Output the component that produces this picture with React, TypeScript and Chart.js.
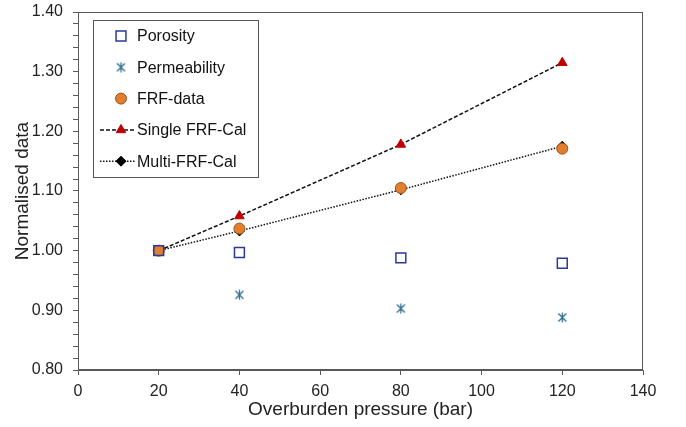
import React, { useEffect, useRef } from 'react';
import { Chart, registerables } from 'chart.js';
import { drawPoint } from 'chart.js/helpers';

Chart.register(...registerables);

// ---- data ----
const pressures = [20, 40, 80, 120];
const porosity = [1.0, 0.997, 0.988, 0.979];
const permeability = [1.0, 0.926, 0.903, 0.888];
const frfData = [1.0, 1.037, 1.105, 1.171];
const singleFrfCal = [1.0, 1.058, 1.178, 1.315];
const multiFrfCal = [1.0, 1.033, 1.102, 1.175];
const seriesLabels = ['Porosity', 'Permeability', 'FRF-data', 'Single FRF-Cal', 'Multi-FRF-Cal'];
const xTitle = 'Overburden pressure (bar)';
const yTitle = 'Normalised data';

const FONT = '"Liberation Sans", Arial, sans-serif';

function makeAsterisk(color: string) {
  const c = document.createElement('canvas');
  c.width = 11;
  c.height = 11;
  const ctx = c.getContext('2d')!;
  ctx.strokeStyle = color;
  ctx.lineWidth = 1.3;
  ctx.beginPath();
  ctx.moveTo(1.5, 1.5);
  ctx.lineTo(9.5, 9.5);
  ctx.moveTo(9.5, 1.5);
  ctx.lineTo(1.5, 9.5);
  ctx.moveTo(5.5, 0.5);
  ctx.lineTo(5.5, 10.5);
  ctx.stroke();
  return c;
}

const toPts = (ys: number[]) => pressures.map((x, i) => ({ x, y: ys[i] }));

const framePlugin = {
  id: 'frame',
  afterDraw(chart: any) {
    const { ctx, chartArea } = chart;
    ctx.save();
    ctx.strokeStyle = '#595959';
    ctx.lineWidth = 1;
    ctx.strokeRect(chartArea.left + 0.5, chartArea.top + 0.5, chartArea.right - chartArea.left - 1, chartArea.bottom - chartArea.top - 1);
    ctx.restore();
  },
};

const legendPlugin = {
  id: 'boxLegend',
  afterDraw(chart: any) {
    const ctx = chart.ctx;
    ctx.save();
    const x0 = 93.5, y0 = 20.5, w = 165, h = 157;
    ctx.fillStyle = '#ffffff';
    ctx.fillRect(x0, y0, w, h);
    ctx.strokeStyle = '#555555';
    ctx.lineWidth = 1;
    ctx.strokeRect(x0, y0, w, h);
    chart.data.datasets.forEach((ds: any, i: number) => {
      const cy = 36 + i * 31.3;
      if (ds.showLine) {
        ctx.beginPath();
        ctx.setLineDash(ds.borderDash || []);
        ctx.strokeStyle = ds.borderColor;
        ctx.lineWidth = ds.borderWidth;
        ctx.moveTo(100, cy);
        ctx.lineTo(136, cy);
        ctx.stroke();
        ctx.setLineDash([]);
      }
      ctx.fillStyle = ds.pointBackgroundColor;
      ctx.strokeStyle = ds.pointBorderColor;
      ctx.lineWidth = ds.pointBorderWidth;
      drawPoint(ctx, { pointStyle: ds.pointStyle, rotation: 0, radius: ds.pointRadius, borderWidth: ds.pointBorderWidth } as any, 121, cy);
      ctx.fillStyle = '#111111';
      ctx.font = '16px ' + FONT;
      ctx.textBaseline = 'middle';
      ctx.textAlign = 'left';
      ctx.fillText(ds.label, 137, cy + 1);
    });
    ctx.restore();
  },
};

export default function App() {
  const ref = useRef<HTMLCanvasElement>(null);
  useEffect(() => {
    const asterisk = makeAsterisk('#2e7090');
    const chart = new Chart(ref.current!, {
      type: 'scatter',
      data: {
        datasets: [
          {
            label: seriesLabels[0],
            data: toPts(porosity),
            order: 0,
            pointStyle: 'rect',
            pointRadius: 7,
            pointBackgroundColor: 'rgba(0,0,0,0)',
            pointBorderColor: '#2a3a9c',
            pointBorderWidth: 1.5,
            showLine: false,
          },
          {
            label: seriesLabels[1],
            data: toPts(permeability),
            order: 2,
            pointStyle: asterisk as any,
            pointRadius: 5,
            pointBackgroundColor: '#2e7090',
            pointBorderColor: '#2e7090',
            pointBorderWidth: 1,
            showLine: false,
          },
          {
            label: seriesLabels[2],
            data: toPts(frfData),
            order: 1,
            pointStyle: 'circle',
            pointRadius: 5.5,
            pointBackgroundColor: '#e07f2e',
            pointBorderColor: '#9c5418',
            pointBorderWidth: 1,
            showLine: false,
          },
          {
            label: seriesLabels[3],
            data: toPts(singleFrfCal),
            order: 3,
            pointStyle: 'triangle',
            pointRadius: 5.5,
            pointBackgroundColor: '#c00000',
            pointBorderColor: '#c00000',
            pointBorderWidth: 1,
            showLine: true,
            borderColor: '#111111',
            borderWidth: 1.5,
            borderDash: [4, 2],
          },
          {
            label: seriesLabels[4],
            data: toPts(multiFrfCal),
            order: 4,
            pointStyle: 'rectRot',
            pointRadius: 5,
            pointBackgroundColor: '#000000',
            pointBorderColor: '#000000',
            pointBorderWidth: 1,
            showLine: true,
            borderColor: '#111111',
            borderWidth: 1.5,
            borderDash: [1.5, 1.5],
          },
        ] as any,
      },
      options: {
        animation: false,
        responsive: true,
        maintainAspectRatio: false,
        layout: { padding: { top: 12, right: 43, left: 0, bottom: 0 } },
        plugins: { legend: { display: false }, tooltip: { enabled: false } },
        scales: {
          x: {
            type: 'linear',
            min: 0,
            max: 140,
            ticks: { stepSize: 20, color: '#222', font: { family: FONT, size: 16 }, padding: 7, maxRotation: 0 },
            grid: { drawOnChartArea: false, tickLength: 5, color: '#595959' },
            border: { color: '#595959', width: 1 },
            title: { display: true, text: xTitle, color: '#222', font: { family: FONT, size: 19 }, padding: { top: 0, bottom: 6 } },
            afterFit: (s: any) => { s.height = 57; s.paddingLeft = 0; s.paddingRight = 0; },
          },
          y: {
            type: 'linear',
            min: 0.8,
            max: 1.4,
            ticks: {
              stepSize: 0.02,
              autoSkip: false,
              color: '#222',
              font: { family: FONT, size: 16 },
              padding: 10,
              callback: (v: any) => {
                const n = Number(v);
                return Math.abs(n * 10 - Math.round(n * 10)) < 1e-6 ? n.toFixed(2) : '';
              },
            },
            grid: { drawOnChartArea: false, tickLength: 5, color: '#595959' },
            border: { color: '#595959', width: 1 },
            title: { display: true, text: yTitle, color: '#222', font: { family: FONT, size: 19 }, padding: { top: 11, bottom: 0 } },
            afterFit: (s: any) => { s.width = 78; s.paddingTop = 0; s.paddingBottom = 0; },
          },
        },
      } as any,
      plugins: [framePlugin, legendPlugin],
    });
    return () => chart.destroy();
  }, []);
  return (
    <div style={{ position: 'fixed', left: 0, top: 0, width: 686, height: 427, background: '#fff' }}>
      <canvas ref={ref} />
    </div>
  );
}
